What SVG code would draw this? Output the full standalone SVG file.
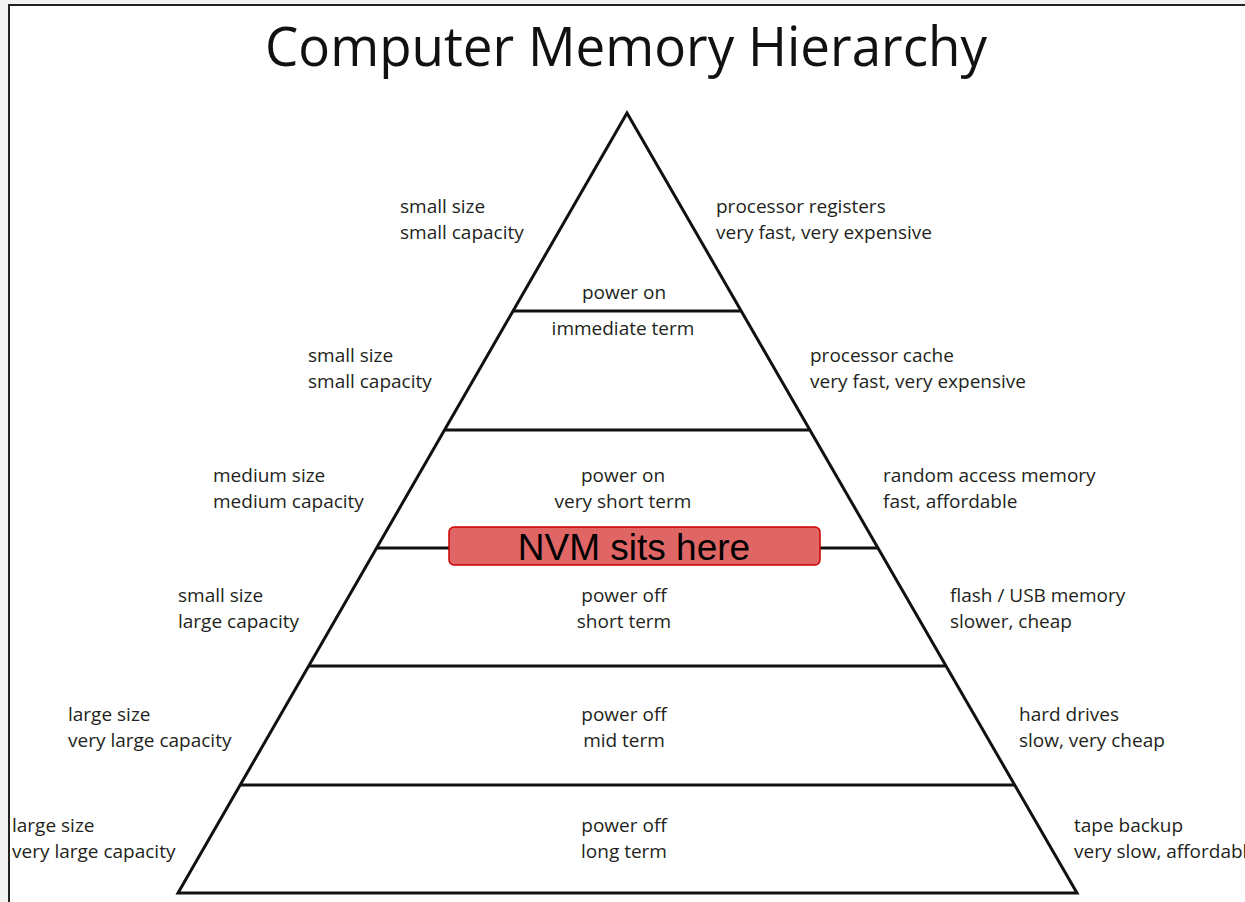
<svg xmlns="http://www.w3.org/2000/svg" width="1245" height="902" viewBox="0 0 1245 902">
<style>
  .lbl { font-family: "Open Sans", "Noto Sans", sans-serif; font-size: 19px; fill: #231f20; }
  .ctr { text-anchor: middle; }
  .title { font-family: "Open Sans", "Noto Sans", sans-serif; font-size: 54px; fill: #111; text-anchor: middle; }
  .edge { stroke: #111; stroke-width: 3; fill: none; stroke-linejoin: miter; }
  .tier { stroke: #111; stroke-width: 3; }
  .nvm { fill: #e06666; stroke: #cc0000; stroke-width: 1.5; }
  .nvmtext { font-family: "Liberation Sans", Arial, sans-serif; font-size: 37px; fill: #000; text-anchor: middle; }
</style>
<rect x="0" y="0" width="1245" height="902" fill="#f3f3f3"/>
<rect x="9" y="5" width="1236" height="897" fill="#ffffff"/>
<path d="M9,902 V5 H1245" stroke="#222" stroke-width="2" fill="none"/>

<text class="title" x="626" y="66" textLength="722" lengthAdjust="spacingAndGlyphs">Computer Memory Hierarchy</text>

<g id="pyramid">
  <path class="edge" d="M178,893 L627,113 L1077,893 Z"/>
</g>

<g id="connectors">
  <line class="tier" x1="513" y1="311" x2="741" y2="311"/>
  <line class="tier" x1="444" y1="430" x2="810" y2="430"/>
  <line class="tier" x1="377" y1="548" x2="877" y2="548"/>
  <line class="tier" x1="309" y1="666" x2="945" y2="666"/>
  <line class="tier" x1="240" y1="785" x2="1014" y2="785"/>
</g>

<g id="tier-registers">
  <text class="lbl" x="400" y="213">small size</text>
  <text class="lbl" x="400" y="239">small capacity</text>
  <text class="lbl" x="716" y="213">processor registers</text>
  <text class="lbl" x="716" y="239">very fast, very expensive</text>
  <text class="lbl ctr" x="624" y="299">power on</text>
</g>

<g id="tier-cache">
  <text class="lbl ctr" x="623" y="335">immediate term</text>
  <text class="lbl" x="308" y="362">small size</text>
  <text class="lbl" x="308" y="388">small capacity</text>
  <text class="lbl" x="810" y="362">processor cache</text>
  <text class="lbl" x="810" y="388">very fast, very expensive</text>
</g>

<g id="tier-ram">
  <text class="lbl" x="213" y="482">medium size</text>
  <text class="lbl" x="213" y="508">medium capacity</text>
  <text class="lbl ctr" x="623" y="482">power on</text>
  <text class="lbl ctr" x="623" y="508">very short term</text>
  <text class="lbl" x="883" y="482">random access memory</text>
  <text class="lbl" x="883" y="508">fast, affordable</text>
</g>

<g id="tier-flash">
  <text class="lbl" x="178" y="602">small size</text>
  <text class="lbl" x="178" y="628">large capacity</text>
  <text class="lbl ctr" x="624" y="602">power off</text>
  <text class="lbl ctr" x="624" y="628">short term</text>
  <text class="lbl" x="950" y="602">flash / USB memory</text>
  <text class="lbl" x="950" y="628">slower, cheap</text>
</g>

<g id="tier-hdd">
  <text class="lbl" x="68" y="721">large size</text>
  <text class="lbl" x="68" y="747">very large capacity</text>
  <text class="lbl ctr" x="624" y="721">power off</text>
  <text class="lbl ctr" x="624" y="747">mid term</text>
  <text class="lbl" x="1019" y="721">hard drives</text>
  <text class="lbl" x="1019" y="747">slow, very cheap</text>
</g>

<g id="tier-tape">
  <text class="lbl" x="12" y="832">large size</text>
  <text class="lbl" x="12" y="858">very large capacity</text>
  <text class="lbl ctr" x="624" y="832">power off</text>
  <text class="lbl ctr" x="624" y="858">long term</text>
  <text class="lbl" x="1074" y="832">tape backup</text>
  <text class="lbl" x="1074" y="858">very slow, affordabl</text>
</g>

<g id="nvm">
  <rect class="nvm" x="449" y="527" width="371" height="38" rx="5"/>
  <text class="nvmtext" x="634" y="560">NVM sits here</text>
</g>
</svg>
